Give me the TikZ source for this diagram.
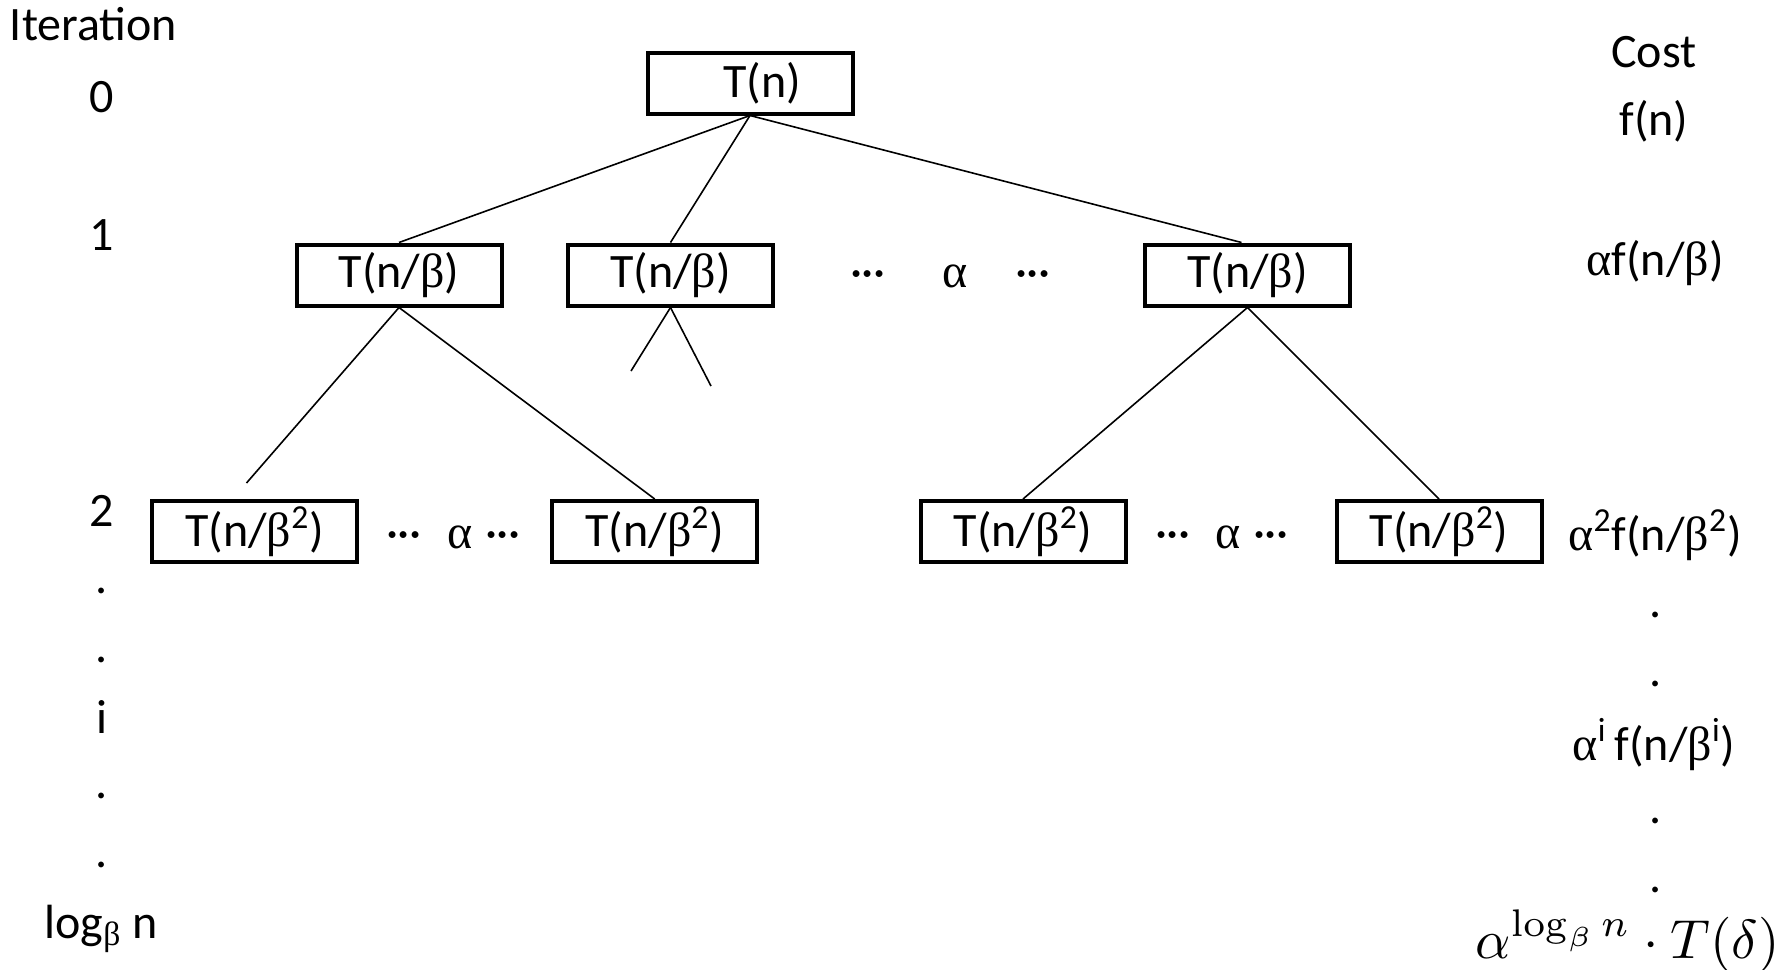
\documentclass[tikz,border=0pt]{standalone}
\usepackage[no-math]{fontspec}
\setmainfont{Carlito}
\newfontfamily\grk{Liberation Serif}
\newcommand{\al}{{\grk α}}
\newcommand{\be}{{\grk β}}
\newcommand{\mydots}{·\kern-0.3pt·\kern-0.3pt·}
\begin{document}
\begin{tikzpicture}[x=0.5pt,y=-0.5pt,
  txt/.style={font=\fontsize{24}{29}\selectfont, inner sep=0pt},
  lbl/.style={txt, anchor=base},
  box/.style={txt, draw, line width=2pt, minimum width=102.5pt, minimum height=30.5pt},
  edge/.style={line width=0.8pt}]
\useasboundingbox (0,0) rectangle (1790,970);
% tree nodes
\node[box] (root) at (750,83) {\hspace{12pt}T(n)};
\node[box] (a) at (399,275) {T(n/\be)};
\node[box] (b) at (670.5,275) {T(n/\be)};
\node[box] (c) at (1247.5,275) {T(n/\be)};
\node[box] (d) at (254.6,531.5) {T(n/\be\textsuperscript{2})};
\node[box] (e) at (654.7,531.5) {T(n/\be\textsuperscript{2})};
\node[box] (f) at (1023,531.5) {T(n/\be\textsuperscript{2})};
\node[box] (g) at (1439,531.5) {T(n/\be\textsuperscript{2})};
% dots between siblings
\node[lbl] (l1d1) at (868,287) {\mydots};
\node[lbl] (l1a) at (955,287) {\al};
\node[lbl] (l1d2) at (1033,287) {\mydots};
\node[lbl] (l2d1) at (404,548) {\mydots};
\node[lbl] (l2a) at (460,548) {\al};
\node[lbl] (l2d2) at (503,548) {\mydots};
\node[lbl] (l2d3) at (1173,548) {\mydots};
\node[lbl] (l2b) at (1228,548) {\al};
\node[lbl] (l2d4) at (1271,548) {\mydots};
% free ends
\coordinate (dtop) at (246.5,483);
\coordinate (bl) at (631,371);
\coordinate (br) at (711,386);
% edges
\draw[edge] (root.south) -- (a.north);
\draw[edge] (root.south) -- (b.north);
\draw[edge] (root.south) -- ([xshift=-3pt]c.north);
\draw[edge] (a.south) -- (dtop);
\draw[edge] (a.south) -- (e.north);
\draw[edge] (b.south) -- (bl);
\draw[edge] (b.south) -- (br);
\draw[edge] (c.south) -- (f.north);
\draw[edge] (c.south) -- (g.north);
% iteration column
\node[lbl] (iter) at (93.5,40) {Iteration};
\node[lbl] (i0) at (102,112) {0};
\node[lbl] (i1) at (102,250) {1};
\node[lbl] (i2) at (102,526) {2};
\node[lbl] (id1) at (102,593) {.};
\node[lbl] (id2) at (102,662) {.};
\node[lbl] (ii) at (102,733) {i};
\node[lbl] (id3) at (102,798) {.};
\node[lbl] (id4) at (102,867) {.};
\node[lbl] (ilog) at (101,938) {log\textsubscript{\be} n};
% cost column
\node[lbl] (cost) at (1654,67) {Cost};
\node[lbl] (c0) at (1654,135) {f(n)};
\node[lbl] (c1) at (1655,275) {\al f(n/\be)};
\node[lbl] (c2) at (1655,550) {\al\textsuperscript{2}f(n/\be\textsuperscript{2})};
\node[lbl] (cd1) at (1656,617) {.};
\node[lbl] (cd2) at (1656,686) {.};
\node[lbl] (ci) at (1654,760) {\al\textsuperscript{i}\,f(n/\be\textsuperscript{i})};
\node[lbl] (cd3) at (1656,823) {.};
\node[lbl] (cd4) at (1656,892) {.};
\node[anchor=base east, inner sep=0pt, scale=2.75] (cfinal) at (1781,958) {$\alpha^{\log_\beta n}\cdot T(\delta)$};
\end{tikzpicture}
\end{document}
